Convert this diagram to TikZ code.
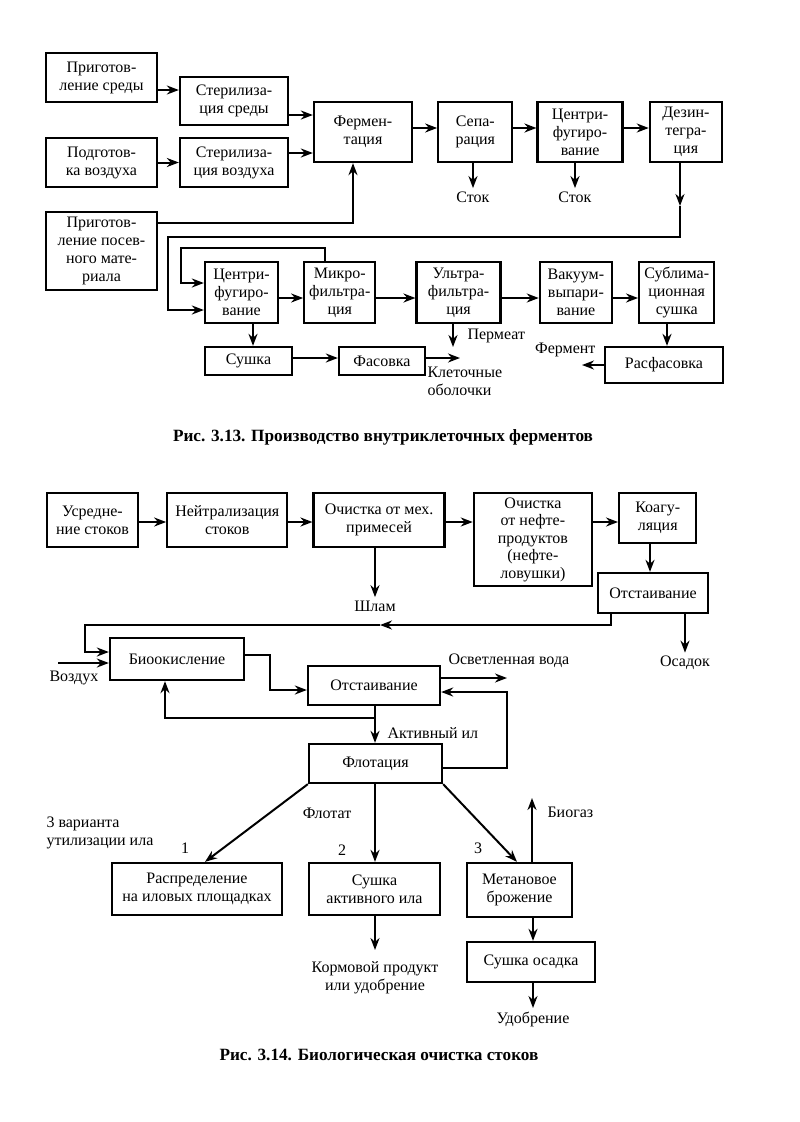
\documentclass[tikz,border=0pt]{standalone}
\usepackage{fontspec}
\setmainfont{Liberation Serif}
\usepackage{tikz}
\usetikzlibrary{positioning,arrows.meta}

\begin{document}
\begin{tikzpicture}[
    x=1pt, y=-1pt,
    font=\fontsize{16}{18}\selectfont,
    box/.style={
        draw,
        line width=2.3pt,
        align=center,
        inner sep=2pt,
        fill=white
    },
    flow/.style={->, line width=2pt},
    figcap/.style={font=\bfseries\fontsize{17.2}{18}\selectfont},
    >={Stealth[length=12pt,width=9pt]}
]
\useasboundingbox (0,0) rectangle (800,1122);

% Рис. 3.13
\node[box, minimum width=111pt, minimum height=49pt] (prepmed) at (101.5,77.5) {Приготов-\\ление среды};
\node[box, minimum width=108pt, minimum height=48pt] (stermed) at (234,101) {Стерилиза-\\ция среды};
\node[box, minimum width=111pt, minimum height=49pt] (prepair) at (101.5,162.5) {Подготов-\\ка воздуха};
\node[box, minimum width=108pt, minimum height=49pt] (sterair) at (234,162.5) {Стерилиза-\\ция воздуха};
\node[box, minimum width=111pt, minimum height=78pt] (seed) at (101.5,251) {Приготов-\\ление посев-\\ного мате-\\риала};

\node[box, minimum width=98pt, minimum height=60pt] (ferm) at (363,132) {Фермен-\\тация};
\node[box, minimum width=74pt, minimum height=60pt, right=24pt of ferm] (sep) {Сепа-\\рация};
\node[box, minimum width=85pt, minimum height=60pt, right=23pt of sep] (cfa) {Центри-\\фугиро-\\вание};
\node[box, minimum width=72pt, minimum height=60pt, right=25pt of cfa] (disint) {Дезин-\\тегра-\\ция};

\draw[flow] (prepmed.east |- 0,90) -- (stermed.west |- 0,90);
\draw[flow] (stermed.east |- 0,115) -- (ferm.west |- 0,115);
\draw[flow] (prepair) -- (sterair);
\draw[flow] (sterair.east |- 0,153) -- (ferm.west |- 0,153);
\draw[flow] (seed.east |- 0,223) -| (ferm.south -| 353,0);
\draw[flow] (ferm.east |- 0,128) -- (sep.west |- 0,128);
\draw[flow] (sep.east |- 0,128) -- (cfa.west |- 0,128);
\draw[flow] (cfa.east |- 0,128) -- (disint.west |- 0,128);

\node (stok1) at (473,197) {Сток};
\node (stok2) at (575,197) {Сток};
\draw[flow] (sep.south -| stok1) -- (stok1.north);
\draw[flow] (cfa.south -| stok2) -- (stok2.north);

\node[box, minimum width=73pt, minimum height=61pt] (cfb) at (241.5,292.5) {Центри-\\фугиро-\\вание};
\node[box, minimum width=71pt, minimum height=61pt, right=24pt of cfb] (mf) {Микро-\\фильтра-\\ция};
\node[box, minimum width=84pt, minimum height=61pt, right=39pt of mf] (uf) {Ультра-\\фильтра-\\ция};
\node[box, minimum width=72pt, minimum height=61pt, right=37pt of uf] (vac) {Вакуум-\\выпари-\\вание};
\node[box, minimum width=75pt, minimum height=61pt, right=25pt of vac] (subl) {Сублима-\\ционная\\сушка};

% возврат на центрифугирование
\coordinate (dzm) at (680,206);
\coordinate (dz) at (680,237);
\draw[flow] (disint.south -| dz) -- (dzm);
\draw[flow] (dzm) -- (dz) -| (168,310) -- (cfb.west |- 0,310);
\draw[flow] (mf.north -| 325,0) |- (181,248) |- (cfb.west |- 0,283);

\draw[flow] (cfb.east |- 0,298) -- (mf.west |- 0,298);
\draw[flow] (mf.east |- 0,298) -- (uf.west |- 0,298);
\draw[flow] (uf.east |- 0,298) -- (vac.west |- 0,298);
\draw[flow] (vac.east |- 0,298) -- (subl.west |- 0,298);

\coordinate (perm) at (453,347);
\draw[flow] (uf.south -| perm) -- (perm);
\node[anchor=west] (permlbl) at (464,336) {Пермеат};

\node[box, minimum width=87pt, minimum height=28pt] (dry) at (248.5,361) {Сушка};
\node[box, minimum width=86pt, minimum height=28pt] (pack) at (382,361) {Фасовка};
\draw[flow] (cfb.south -| 253,0) -- (dry.north -| 253,0);
\draw[flow] (dry.east |- 0,358) -- (pack.west |- 0,358);
\coordinate (cells) at (460,358);
\draw[flow] (pack.east |- cells) -- (cells);
\node[anchor=north west, align=left] (cellslbl) at (424,363) {Клеточные\\оболочки};

\node[box, minimum width=118pt, minimum height=36pt] (dist) at (664,365) {Расфасовка};
\draw[flow] (subl.south -| 667,0) -- (dist.north -| 667,0);
\coordinate (enz) at (582,365);
\draw[flow] (dist.west) -- (enz);
\node[anchor=east] (enzlbl) at (599,350) {Фермент};

\node[figcap] (cap1) at (383,437) {Рис. 3.13. Производство внутриклеточных ферментов};

% Рис. 3.14
\node[box, minimum width=91pt, minimum height=54pt] (avg) at (92.5,520) {Усредне-\\ние стоков};
\node[box, minimum width=120pt, minimum height=54pt, right=27pt of avg] (neut) {Нейтрализация\\стоков};
\node[box, minimum width=131pt, minimum height=54pt, right=24pt of neut] (mech) {Очистка от мех.\\примесей};
\node[box, minimum width=118pt, minimum height=93pt, anchor=north west, font=\fontsize{16}{17.5}\selectfont] (oil) at ([xshift=27pt]mech.north east) {Очистка\\от нефте-\\продуктов\\(нефте-\\ловушки)};
\node[box, minimum width=77pt, minimum height=50pt, anchor=north west] (coag) at ([xshift=25pt]oil.north east) {Коагу-\\ляция};
\node[box, minimum width=110pt, minimum height=40pt] (settle) at (653,593) {Отстаивание};

\draw[flow] (avg.east |- 0,522) -- (neut.west |- 0,522);
\draw[flow] (neut.east |- 0,522) -- (mech.west |- 0,522);
\draw[flow] (mech.east |- 0,522) -- (oil.west |- 0,522);
\draw[flow] (oil.east |- 0,522) -- (coag.west |- 0,522);
\draw[flow] (coag.south -| 650,0) -- (settle.north -| 650,0);

\node (sludge) at (375,606) {Шлам};
\draw[flow] (mech.south -| sludge) -- (sludge.north);
\node (sed) at (685,663) {Осадок};
\draw[flow] (settle.south -| sed) -- (sed.north);

\node[box, minimum width=134pt, minimum height=42pt] (bio) at (177,659) {Биоокисление};
\coordinate (fb) at (380,625);
\draw[flow] (settle.south -| 611,0) |- (fb);
\draw[flow] (fb) -| (85,652) -- (bio.west |- 0,652);

\coordinate (air) at (58,663);
\draw[flow] (air) -- (bio.west |- air);
\node[anchor=north west] (airlbl) at (46,667) {Воздух};

\node[box, minimum width=132pt, minimum height=39pt] (settleb) at (374,685.5) {Отстаивание};
\node[box, minimum width=133pt, minimum height=39pt] (flot) at (375.5,763.5) {Флотация};
\draw[flow] (bio.east |- 0,655) -| (270,690) -- (settleb.west |- 0,690);

\coordinate (ret) at (375,718);
\draw[flow] (settleb.south -| ret) -- (ret) -| (bio.south -| 165,0);
\draw[flow] (ret) -- (flot.north -| ret);
\node[anchor=west] (actlbl) at (384,733) {Активный ил};

\coordinate (clear) at (507,678);
\draw[flow] (settleb.east |- clear) -- (clear);
\node[anchor=west] (clearlbl) at (445,661) {Осветленная вода};
\draw[flow] (flot.east |- 0,768) -| (507,692) -- (settleb.east |- 0,692);

\node[box, minimum width=170pt, minimum height=52pt] (spread) at (197,889) {Распределение\\на иловых площадках};
\node[box, minimum width=131pt, minimum height=52pt] (drysl) at (374.5,889) {Сушка\\активного ила};
\node[box, minimum width=105pt, minimum height=54pt] (meth) at (519.5,890) {Метановое\\брожение};
\node[box, minimum width=128pt, minimum height=40pt] (drysed) at (531,962) {Сушка осадка};

\draw[flow] (flot.south west) -- (spread.north -| 205,0);
\draw[flow] (flot.south -| 375,0) -- (drysl.north -| 375,0);
\draw[flow] (flot.south east) -- (meth.north -| 517,0);

\node (v1) at (185,848) {1};
\node (v2) at (342,850) {2};
\node (v3) at (478,848) {3};
\node (flotat) at (327,813) {Флотат};
\node[anchor=west, align=left] (vars) at (43,833) {3 варианта\\утилизации ила};

\coordinate (feedend) at (375,950);
\draw[flow] (drysl.south -| feedend) -- (feedend);
\node[align=center] (feed) at (375,978) {Кормовой продукт\\или удобрение};

\coordinate (gas) at (532,798);
\draw[flow] (meth.north -| gas) -- (gas);
\node[anchor=west] (gaslbl) at (544,812) {Биогаз};
\draw[flow] (meth.south -| 533,0) -- (drysed.north -| 533,0);

\coordinate (fertend) at (533,1008);
\draw[flow] (drysed.south -| fertend) -- (fertend);
\node (fert) at (533,1019) {Удобрение};

\node[figcap] (cap2) at (379,1055) {Рис. 3.14. Биологическая очистка стоков};

\end{tikzpicture}
\end{document}
